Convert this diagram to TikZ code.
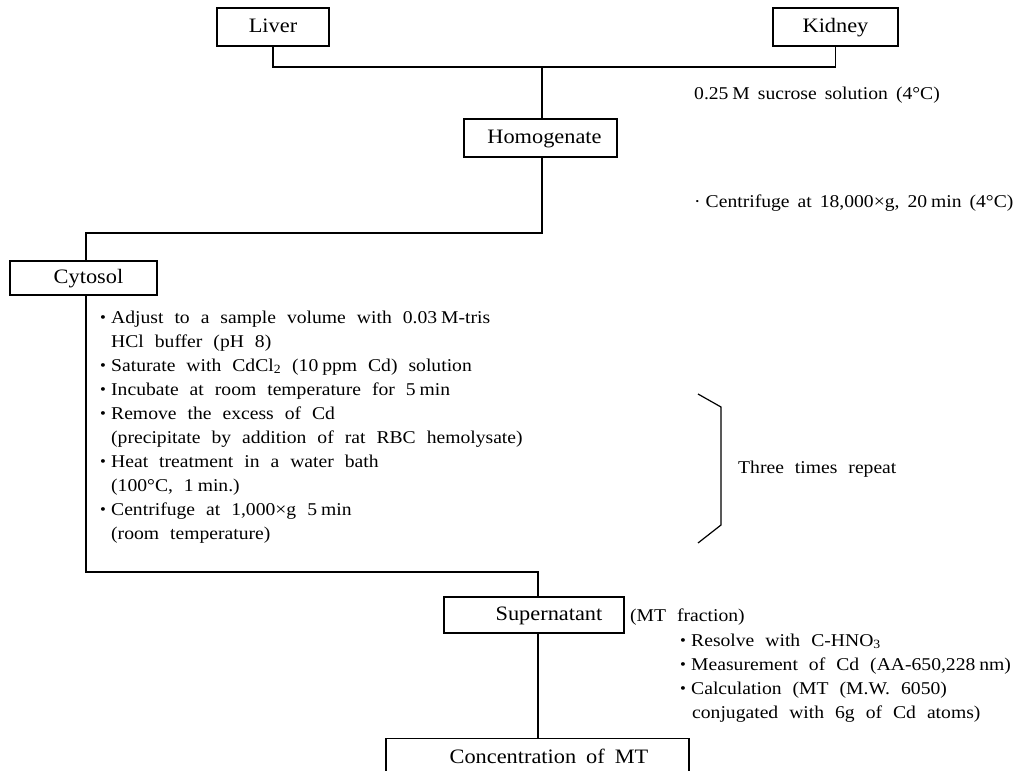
\documentclass[tikz,border=0pt]{standalone}
\usepackage{fontspec}
\setmainfont{Liberation Serif}[FakeStretch=1.09]
\newcommand{\mybul}{\makebox[11pt][l]{\raisebox{0.02em}{\scalebox{0.85}{•}}}}
\newcommand{\nsp}{\hspace{0.22em}}
\begin{document}
\begin{tikzpicture}[x=1pt,y=-1pt,
  lbl/.style={font={\fontsize{20.5}{24}\selectfont\spaceskip=10pt plus 2pt\relax}, text height=15pt, text depth=4pt},
  box/.style={draw, line width=1.2pt, inner sep=0pt, lbl},
  txt/.style={font={\fontsize{18}{24}\selectfont\spaceskip=11pt plus 2pt\relax}, inner sep=0pt, anchor=base west},
  note/.style={txt, anchor=west, font={\fontsize{18}{24}\selectfont\spaceskip=8pt plus 1pt\relax}},
  wire/.style={line width=1.2pt}]
\useasboundingbox[fill=white] (0,0) rectangle (1026,771);
% boxes
\node[box, minimum width=112pt, minimum height=38pt] (liver) at (273,27) {Liver};
\node[box, minimum width=125pt, minimum height=38pt] (kidney) at (835.5,27) {Kidney};
\node[box, minimum width=153pt, minimum height=38pt] (homog) at (540.5,138) {\hspace*{8pt}Homogenate};
\node[box, minimum width=147pt, minimum height=34pt] (cyto) at (83.5,278) {\hspace*{10pt}Cytosol};
\node[box, minimum width=180pt, minimum height=36pt] (sup) at (534,615) {\hspace*{30pt}Supernatant};
\node[draw, line width=1.2pt, minimum width=303pt, minimum height=80pt, anchor=north] (conc) at (537.5,738) {};
\node[lbl] (conctext) at (549,758) {Concentration of MT};
% junctions
\coordinate (j1) at (542,67);
\coordinate (j2) at (86,233);
\coordinate (j3) at (538,572);
% connectors
\draw[wire] (liver.south) |- (j1) -| (kidney.south);
\draw[wire] (j1) -- (j1 |- homog.north);
\draw[wire] (j1 |- homog.south) |- (j2) -- (j2 |- cyto.north);
\draw[wire] (j2 |- cyto.south) |- (j3) -- (j3 |- sup.north);
\draw[wire] (j3 |- sup.south) -- (j3 |- conc.north);
% bracket
\draw[wire] (698,394) -- (721,407) -- (721,525) -- (698,543);
\node[txt, anchor=west] (rep) at (738,469) {Three times repeat};
% side notes
\node[note] (suc) at (694,95) {0.25\nsp M sucrose solution (4°C)};
\node[note] (cen) at (694,203) {·\hspace{5pt}Centrifuge at 18,000×g, 20\nsp min (4°C)};
% left list
\node[txt] (a1) at (100,323) {\mybul Adjust to a sample volume with 0.03\nsp M-tris};
\node[txt] (a2) at (111,347) {HCl buffer (pH 8)};
\node[txt] (a3) at (100,371) {\mybul Saturate with CdCl\textsubscript{2} (10\nsp ppm Cd) solution};
\node[txt] (a4) at (100,395) {\mybul Incubate at room temperature for 5\nsp min};
\node[txt] (a5) at (100,419) {\mybul Remove the excess of Cd};
\node[txt] (a6) at (111,443) {(precipitate by addition of rat RBC hemolysate)};
\node[txt] (a7) at (100,467) {\mybul Heat treatment in a water bath};
\node[txt] (a8) at (111,491) {(100°C, 1\nsp min.)};
\node[txt] (a9) at (100,515) {\mybul Centrifuge at 1,000×g 5\nsp min};
\node[txt] (a10) at (111,539) {(room temperature)};
% right list
\node[txt] (frac) at (630,621) {(MT fraction)};
\node[txt] (b1) at (680,646) {\mybul Resolve with C-HNO\textsubscript{3}};
\node[txt] (b2) at (680,670) {\mybul Measurement of Cd (AA-650,228\nsp nm)};
\node[txt] (b3) at (680,694) {\mybul Calculation (MT (M.W. 6050)};
\node[txt] (b4) at (692,718) {conjugated with 6g of Cd atoms)};
\end{tikzpicture}
\end{document}
